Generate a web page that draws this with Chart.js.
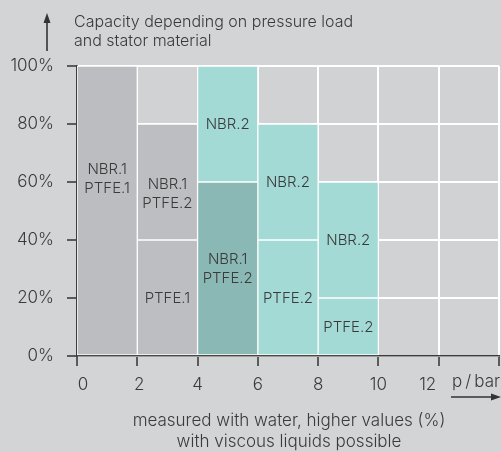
<!DOCTYPE html>
<html>
<head>
<meta charset="utf-8">
<script src="https://cdn.jsdelivr.net/npm/chart.js@4"></script>
<style>
  html, body { margin: 0; padding: 0; background: #d3d4d6; }
  #wrap { width: 501px; height: 452px; }
</style>
</head>
<body>
<div id="wrap"><canvas id="c" width="501" height="452"></canvas></div>
<script>
// pressure bands, p / bar
const bands = ["0-2", "2-4", "4-6", "6-8", "8-10", "10-12", "12-14"];

// capacity ranges (%) per band
const lowerSegment = [[0, 100], [0, 40], [0, 60], [0, 40], [0, 20], null, null];
const upperSegment = [null, [40, 80], [60, 100], [40, 80], [20, 60], null, null];

const lowerText = [["NBR.1", "PTFE.1"], ["PTFE.1"], ["NBR.1", "PTFE.2"], ["PTFE.2"], ["PTFE.2"], null, null];
const upperText = [null, ["NBR.1", "PTFE.2"], ["NBR.2"], ["NBR.2"], ["NBR.2"], null, null];
// where the text sits (%)
const lowerTextAt = [61, 20, 30, 20, 10, null, null];
const upperTextAt = [null, 56, 80, 60, 40, null, null];

const lowerColors = ["#bcbdc0", "#bdbec1", "#8ab8b5", "#a3dad6", "#a3dad6", null, null];
const upperColors = [null, "#bdbec1", "#a3dad6", "#a3dad6", "#a3dad6", null, null];

const yTicks = [0, 20, 40, 60, 80, 100];
const xTicks = [0, 2, 4, 6, 8, 10, 12, 14];

const FONT = "Inter, Roboto, 'Liberation Sans', sans-serif";
const INK = "#3a3a3a";
const AXIS = "#3c3c3c";

// small sideways shifts of some x labels, px
const labelNudge = { "0": 6, "2": 2, "12": -11 };

const bgPlugin = {
  id: "bg",
  beforeDraw(chart) {
    const { ctx, chartArea: a } = chart;
    ctx.save();
    ctx.fillStyle = "#d3d4d6";
    ctx.fillRect(0, 0, chart.width, chart.height);
    ctx.fillStyle = "#d1d2d4";
    ctx.fillRect(a.left, a.top, a.right - a.left, a.bottom - a.top);
    ctx.restore();

    const items = chart.scales.x2.getLabelItems(chart.chartArea);
    items.forEach((it) => {
      const dx = labelNudge[it.label];
      if (dx && !it._moved) {
        it.options.translation[0] += dx;
        it._moved = true;
      }
    });
  },
};

const textPlugin = {
  id: "barText",
  afterDatasetsDraw(chart) {
    const { ctx } = chart;
    const xs = chart.scales.x;
    const ys = chart.scales.y;
    ctx.save();
    ctx.fillStyle = INK;
    ctx.font = "300 15px " + FONT;
    ctx.textAlign = "center";
    ctx.textBaseline = "middle";
    const put = (lines, at, i) => {
      if (!lines) return;
      const cx = xs.getPixelForValue(i);
      const cy = ys.getPixelForValue(at);
      const lh = 19;
      lines.forEach((t, k) => {
        ctx.fillText(t, cx, cy + (k - (lines.length - 1) / 2) * lh);
      });
    };
    bands.forEach((b, i) => {
      put(lowerText[i], lowerTextAt[i], i);
      put(upperText[i], upperTextAt[i], i);
    });
    ctx.restore();
  },
};

const decoPlugin = {
  id: "deco",
  afterDraw(chart) {
    const { ctx } = chart;
    ctx.save();
    ctx.strokeStyle = "#333";
    ctx.fillStyle = "#333";
    ctx.lineWidth = 1.6;
    // y arrow
    ctx.beginPath();
    ctx.moveTo(47, 51);
    ctx.lineTo(47, 20);
    ctx.stroke();
    ctx.beginPath();
    ctx.moveTo(47, 13);
    ctx.lineTo(43.5, 23);
    ctx.lineTo(50.5, 23);
    ctx.closePath();
    ctx.fill();
    // x arrow
    ctx.beginPath();
    ctx.moveTo(451, 397);
    ctx.lineTo(494, 397);
    ctx.stroke();
    ctx.beginPath();
    ctx.moveTo(501, 397);
    ctx.lineTo(491, 393.5);
    ctx.lineTo(491, 400.5);
    ctx.closePath();
    ctx.fill();

    ctx.fillStyle = INK;
    ctx.font = "300 16px " + FONT;
    ctx.textBaseline = "alphabetic";
    ctx.textAlign = "left";
    ctx.fillText("Capacity depending on pressure load", 74, 27);
    ctx.fillText("and stator material", 74, 46);
    ctx.font = "300 17px " + FONT;
    ctx.fillText("p\u2009/\u2009bar", 452, 387);
    ctx.textAlign = "center";
    ctx.fillText("measured with water, higher values (%)", 289, 426);
    ctx.fillText("with viscous liquids possible", 289, 447);
    ctx.restore();
  },
};

new Chart(document.getElementById("c"), {
  type: "bar",
  data: {
    labels: bands,
    datasets: [
      {
        label: "lower",
        data: lowerSegment,
        backgroundColor: lowerColors,
      },
      {
        label: "upper",
        data: upperSegment,
        backgroundColor: upperColors,
      },
    ],
  },
  options: {
    responsive: false,
    animation: false,
    devicePixelRatio: 1,
    layout: { padding: { left: 0, top: 66, right: 2, bottom: 0 } },
    datasets: {
      bar: {
        grouped: false,
        barPercentage: 1,
        categoryPercentage: 1,
        borderColor: "#ffffff",
        borderWidth: 1,
        borderSkipped: false,
      },
    },
    plugins: {
      legend: { display: false },
      tooltip: { enabled: false },
    },
    scales: {
      x: { type: "category", display: false, offset: true },
      x2: {
        type: "linear",
        position: "bottom",
        min: 0,
        max: 14,
        offset: false,
        afterBuildTicks: (s) => {
          s.ticks = xTicks.map((v) => ({ value: v }));
        },
        afterFit: (s) => {
          s.height = 96;
          s.paddingLeft = 0;
          s.paddingRight = 0;
        },
        grid: {
          offset: false,
          color: "#ffffff",
          lineWidth: 2,
          tickColor: AXIS,
          tickLength: 10,
          tickWidth: 1.6,
        },
        border: { color: AXIS, width: 1.6 },
        ticks: {
          padding: 9,
          color: INK,
          font: { family: FONT, size: 17, weight: 300 },
          maxRotation: 0,
          autoSkip: false,
          callback: (v) => (v === 14 ? "" : String(v)),
        },
      },
      y: {
        min: 0,
        max: 100,
        afterBuildTicks: (s) => {
          s.ticks = yTicks.map((v) => ({ value: v }));
        },
        afterFit: (s) => {
          s.width = 77;
        },
        grid: {
          color: "#ffffff",
          lineWidth: 2,
          tickColor: AXIS,
          tickLength: 10,
          tickWidth: 1.6,
        },
        border: { color: AXIS, width: 1.6 },
        ticks: {
          padding: 13,
          color: INK,
          font: { family: FONT, size: 17, weight: 300 },
          callback: (v) => v + "%",
        },
      },
    },
  },
  plugins: [bgPlugin, textPlugin, decoPlugin],
});
</script>
</body>
</html>
